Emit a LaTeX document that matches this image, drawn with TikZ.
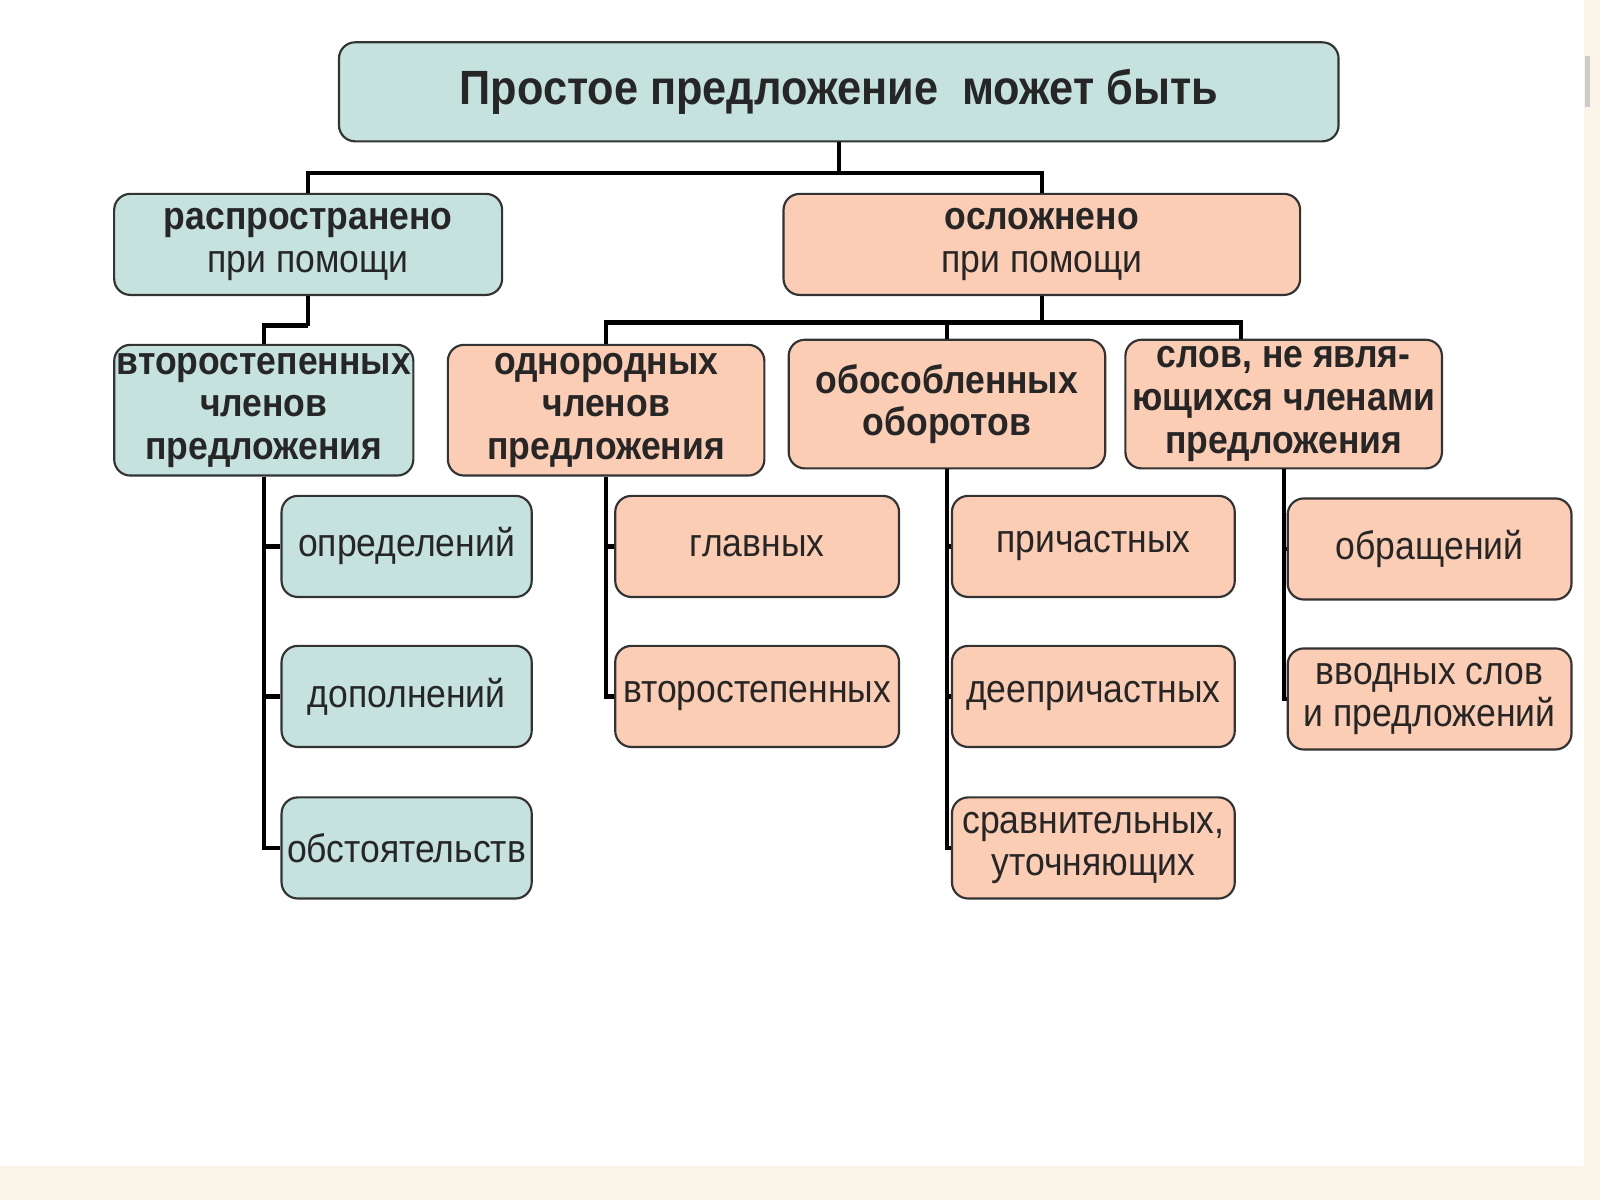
\documentclass[tikz,border=0pt]{standalone}
\usepackage{fontspec}
\setmainfont{Liberation Sans}[FakeStretch=0.9]
\usetikzlibrary{calc, positioning}
\definecolor{boxteal}{RGB}{197,226,222}
\definecolor{boxpeach}{RGB}{250,205,180}
\definecolor{bgband}{RGB}{251,244,232}
\newcommand{\titlefont}{\fontsize{13.4}{15}\bfseries\selectfont}
\newcommand{\headfont}{\fontsize{11}{11.9}\bfseries\selectfont}
\newcommand{\kidfont}{\fontsize{11}{11.8}\selectfont}

\begin{document}
\begin{tikzpicture}[x=0.01cm, y=-0.01cm,
	box/.style={draw=black!80, line width=0.6pt, rounded corners=4.5pt, inner sep=0pt, align=center, text=black!85},
	tealbox/.style={box, fill=boxteal},
	peachbox/.style={box, fill=boxpeach},
	head/.style={font=\headfont},
	kid/.style={font=\kidfont, minimum height=0.99cm},
	conn/.style={line width=1.2pt, black}]
	\useasboundingbox (0,0) rectangle (1568,1176);
	% page background
	\fill[bgband] (0,1143) rectangle (1568,1176);
	\fill[bgband] (1552,0) rectangle (1568,1176);
	\fill[black!20] (1553,55) rectangle (1558,105);
	% top levels
	\node[tealbox, font=\titlefont, minimum width=9.79cm, minimum height=0.97cm] (main) at (822,90) {Простое предложение\ \ может быть};
	\node[tealbox, font=\kidfont, minimum width=3.8cm, minimum height=0.99cm] (rasp) at (302,239.5) {{\headfont распространено}\\[0pt]при помощи};
	\node[peachbox, font=\kidfont, minimum width=5.06cm, minimum height=0.99cm] (osl) at (1021,239.5) {{\headfont осложнено}\\[0pt]при помощи};
	\node[tealbox, head, minimum width=2.93cm, minimum height=1.28cm] (vtor) at (258.5,402) {второстепенных\\членов\\предложения};
	\node[peachbox, head, minimum width=3.1cm, minimum height=1.28cm] (odn) at (594,402) {однородных\\членов\\предложения};
	\node[peachbox, head, minimum width=3.1cm, minimum height=1.26cm] (obos) at (928,396) {обособленных\\оборотов};
	\node[peachbox, head, minimum width=3.1cm, minimum height=1.26cm] (slov) at (1258,396) {слов, не явля-\\ющихся членами\\предложения};
	% lower boxes
	\node[tealbox, kid, minimum width=2.45cm] (opr) at (398.5,535.5) {определений};
	\node[tealbox, kid, minimum width=2.45cm] (dop) at (398.5,682.5) {дополнений};
	\node[tealbox, kid, minimum width=2.45cm] (obst) at (398.5,831) {обстоятельств};
	\node[peachbox, kid, minimum width=2.78cm] (glav) at (742,535.5) {главных};
	\node[peachbox, kid, minimum width=2.78cm] (vtors) at (742,682.5) {второстепенных};
	\node[peachbox, kid, minimum width=2.77cm] (prich) at (1071.5,535.5) {причастных};
	\node[peachbox, kid, minimum width=2.77cm] (deepr) at (1071.5,682.5) {деепричастных};
	\node[peachbox, kid, minimum width=2.77cm] (sravn) at (1071.5,831) {сравнительных,\\уточняющих};
	\node[peachbox, kid, minimum width=2.78cm] (obr) at (1401,538) {обращений};
	\node[peachbox, kid, minimum width=2.78cm] (vvod) at (1401,685) {вводных слов\\и предложений};
	% connectors
	\draw[conn] (main.south) -- ++(0,30) coordinate (j1);
	\draw[conn] (rasp.north) |- (j1) -| (osl.north);
	\draw[conn] (rasp.south) -- ++(0,29) coordinate (j2);
	\draw[conn] (j2) -| (vtor.north);
	\draw[conn] (osl.south) -- ++(0,26) coordinate (j3);
	\draw[conn] (odn.north) |- (j3) -| ($(slov.north)+(-42,0)$);
	\draw[conn] (obos.north) -- (obos.north |- j3);
	\draw[conn] (vtor.south) |- (opr.west);
	\draw[conn] (vtor.south) |- (dop.west);
	\draw[conn] (vtor.south) |- (obst.west);
	\draw[conn] (odn.south) |- (glav.west);
	\draw[conn] (odn.south) |- (vtors.west);
	\draw[conn] (obos.south) |- (prich.west);
	\draw[conn] (obos.south) |- (deepr.west);
	\draw[conn] (obos.south) |- (sravn.west);
	\draw[conn] (slov.south) |- (obr.west);
	\draw[conn] (slov.south) |- (vvod.west);
\end{tikzpicture}
\end{document}
